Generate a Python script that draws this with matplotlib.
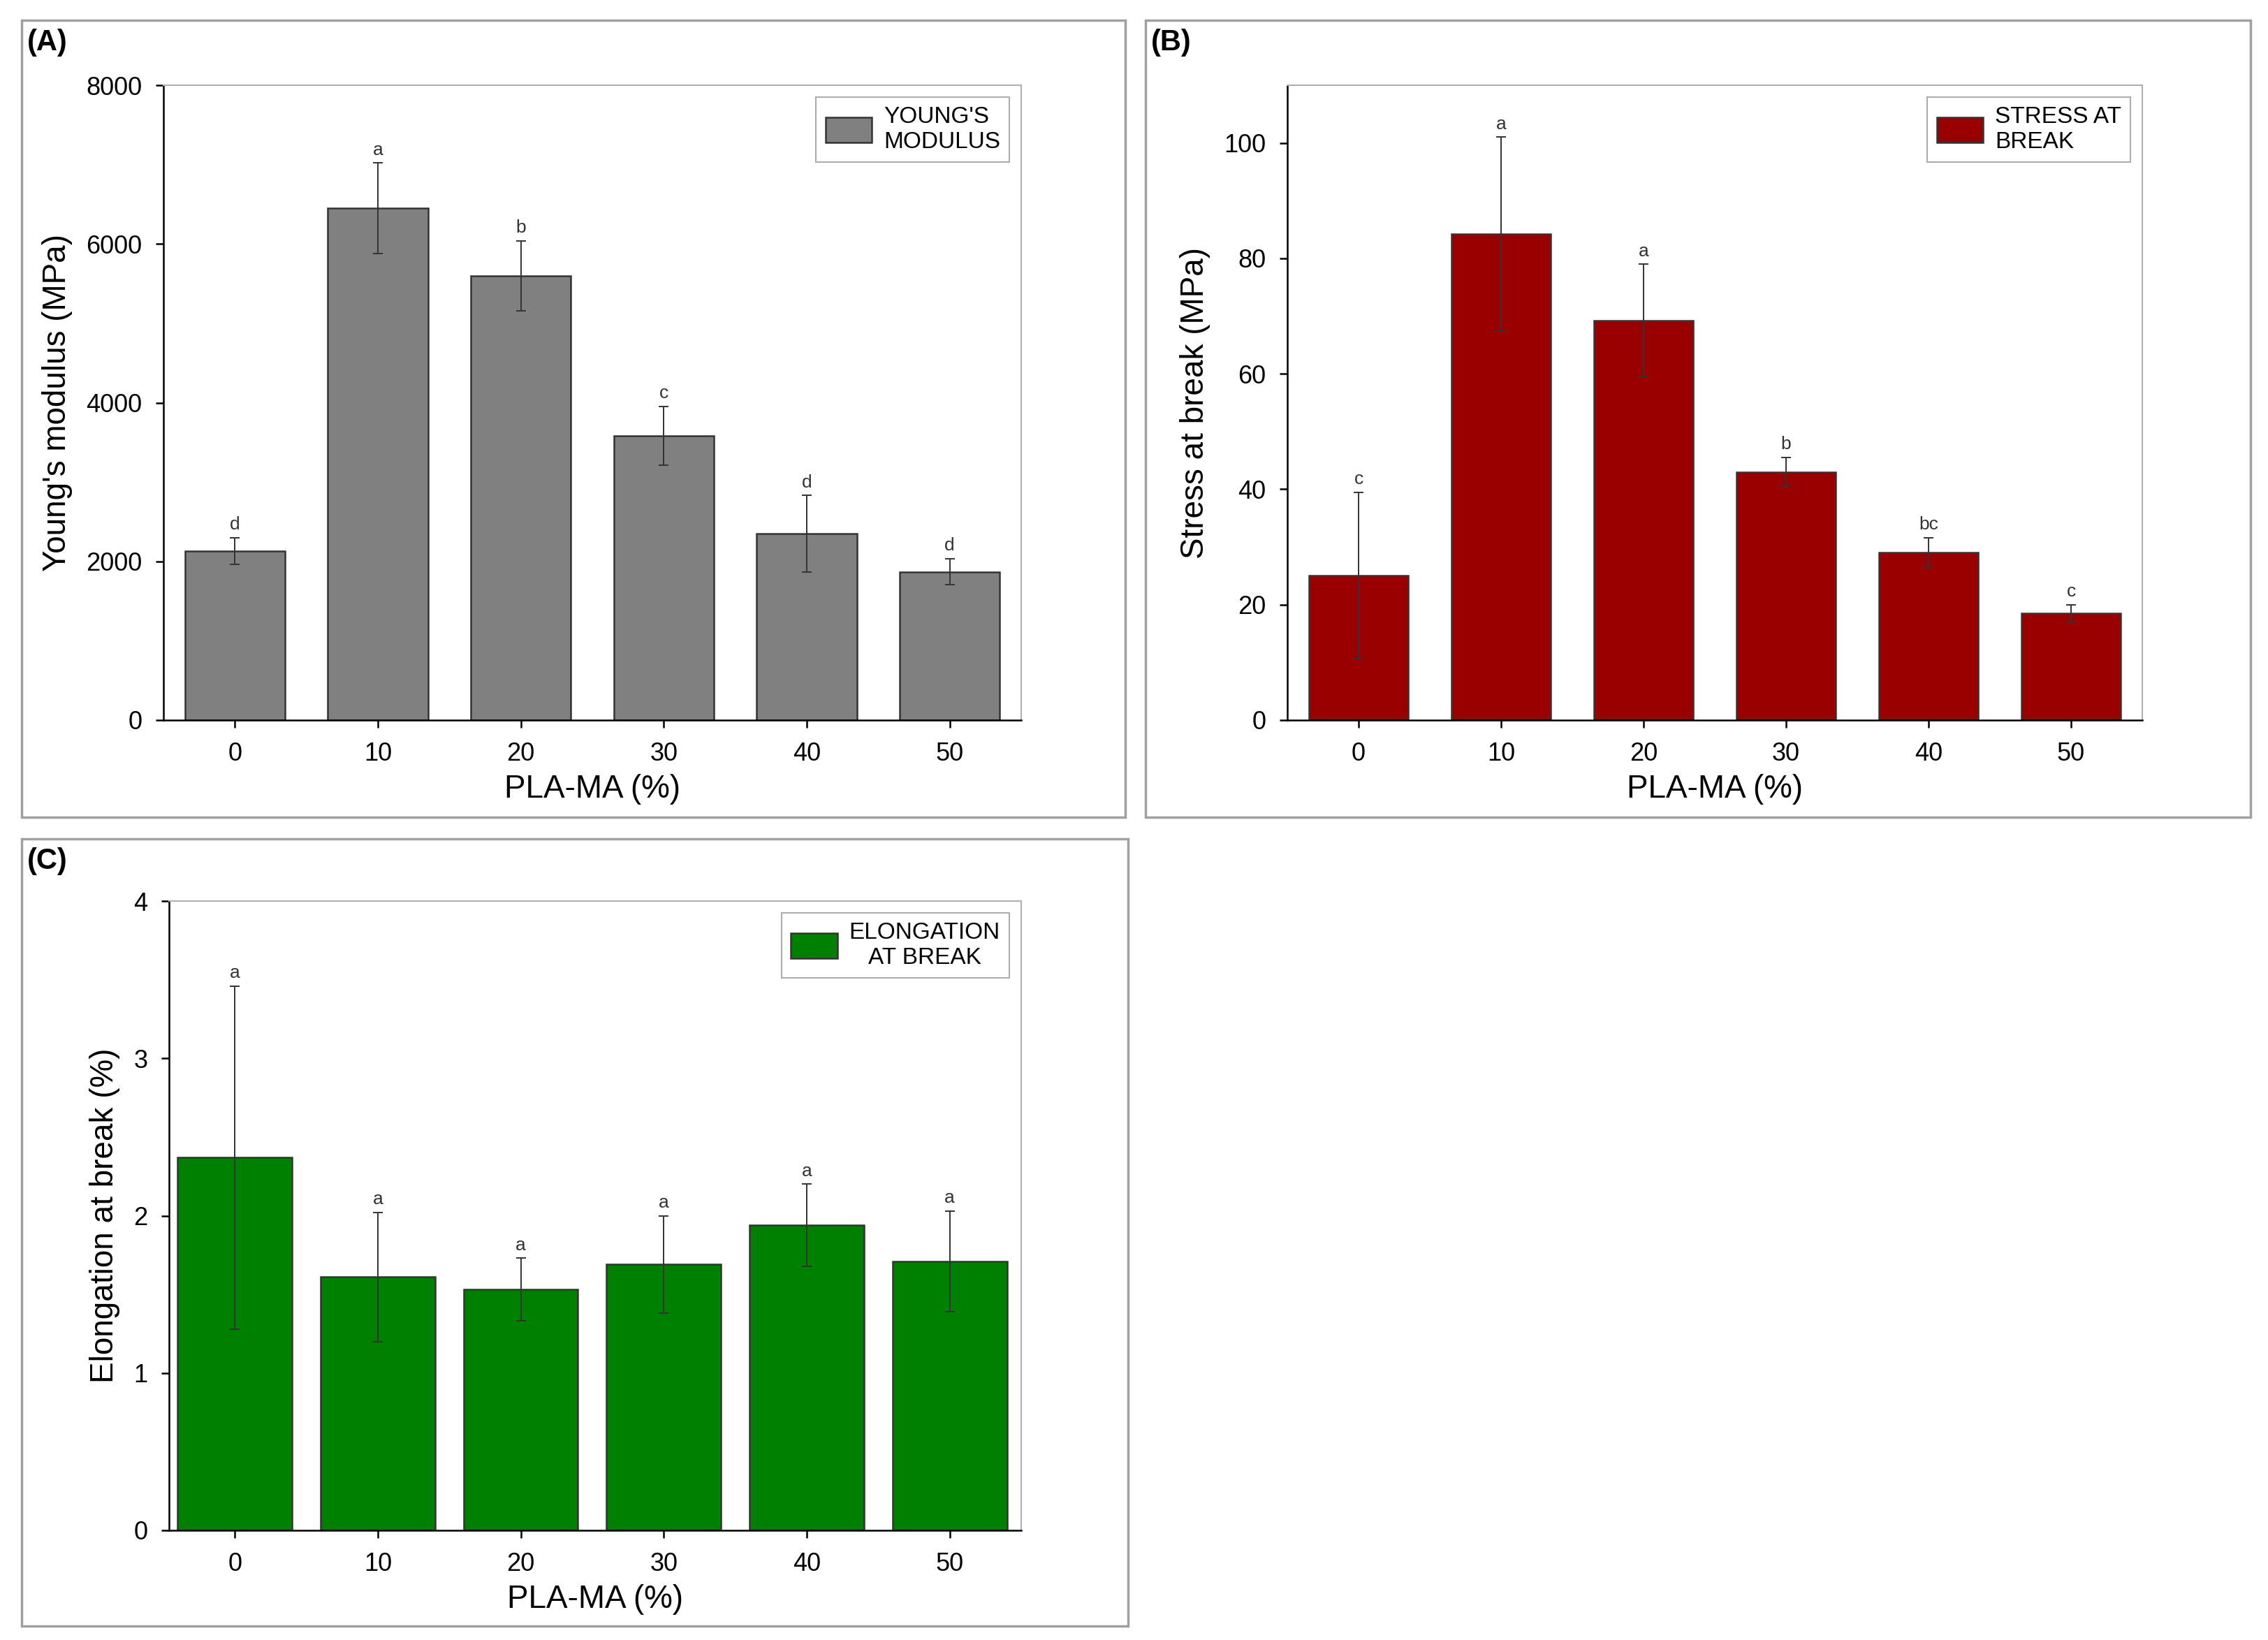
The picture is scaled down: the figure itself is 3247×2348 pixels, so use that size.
import matplotlib.pyplot as plt
from matplotlib.patches import Rectangle
import numpy as np

plt.rcParams['font.family'] = ['Liberation Sans', 'DejaVu Sans']

pla_ma = ['0', '10', '20', '30', '40', '50']

young = [2130, 6450, 5600, 3580, 2350, 1870]
young_err = [170, 570, 440, 370, 480, 165]
young_letters = ['d', 'a', 'b', 'c', 'd', 'd']

stress = [25.0, 84.2, 69.2, 43.0, 29.0, 18.5]
stress_err = [14.5, 16.8, 9.8, 2.5, 2.6, 1.5]
stress_letters = ['c', 'a', 'a', 'b', 'bc', 'c']

elong = [2.37, 1.61, 1.53, 1.69, 1.94, 1.71]
elong_err = [1.09, 0.41, 0.20, 0.31, 0.26, 0.32]
elong_letters = ['a', 'a', 'a', 'a', 'a', 'a']

W, H = 3247, 2348
fig = plt.figure(figsize=(W / 100, H / 100), dpi=100)


def px_axes(x0, y0, x1, y1):
    return fig.add_axes([x0 / W, 1 - y1 / H, (x1 - x0) / W, (y1 - y0) / H])


def frame(x0, y0, x1, y1, label):
    fig.patches.append(Rectangle((x0 / W, 1 - y1 / H), (x1 - x0) / W, (y1 - y0) / H,
                                 transform=fig.transFigure, fill=False,
                                 edgecolor='#a0a0a0', linewidth=2.5))
    fig.text((x0 + 8) / W, 1 - (y0 + 12) / H, label, fontsize=30, fontweight='bold',
             va='top', ha='left')


def panel(ax, vals, errs, letters, color, ylabel, leg, ylim, yticks, width, xlo, lab_off):
    x = np.arange(len(pla_ma))
    ax.bar(x, vals, width=width, color=color, edgecolor='#333333', linewidth=1.8, label=leg, zorder=2)
    ax.errorbar(x, vals, yerr=errs, fmt='none', ecolor='#333333', elinewidth=1.4,
                capsize=5, capthick=1.4, zorder=3)
    for xi, v, e, t in zip(x, vals, errs, letters):
        ax.text(xi, v + e + lab_off, t, ha='center', va='bottom', fontsize=19, color='#333333')
    ax.set_xlim(xlo, 5.5)
    ax.set_ylim(*ylim)
    ax.set_yticks(yticks)
    ax.set_xticks(x)
    ax.set_xticklabels(pla_ma)
    ax.tick_params(direction='out', length=8, width=1.8, labelsize=26, pad=14)
    for s in ['left', 'bottom']:
        ax.spines[s].set_linewidth(1.8)
    for s in ['top', 'right']:
        ax.spines[s].set_color('#b0b0b0')
        ax.spines[s].set_linewidth(1.5)
    ax.set_xlabel('PLA-MA (%)', fontsize=33, labelpad=8)
    ax.set_ylabel(ylabel, fontsize=33, labelpad=14)
    lg = ax.legend(loc='upper right', fontsize=24, frameon=True, fancybox=False,
                   edgecolor='#999999', handlelength=2.0, handleheight=1.3,
                   borderaxespad=0.5, handletextpad=0.5, borderpad=0.4)
    lg.get_frame().set_linewidth(1.5)
    return lg


# (A)
frame(31, 29, 1611, 1170, '(A)')
axA = px_axes(234, 122, 1462, 1031)
panel(axA, young, young_err, young_letters, '#808080', "Young's modulus (MPa)",
      "YOUNG'S\nMODULUS", (0, 8000), [0, 2000, 4000, 6000, 8000], 0.7, -0.5, 60)

# (B)
frame(1640, 29, 3222, 1170, '(B)')
axB = px_axes(1843, 122, 3067, 1031)
panel(axB, stress, stress_err, stress_letters, '#990000', 'Stress at break (MPa)',
      'STRESS AT\nBREAK', (0, 110), [0, 20, 40, 60, 80, 100], 0.7, -0.5, 0.8)

# (C)
frame(31, 1201, 1615, 2328, '(C)')
axC = px_axes(242, 1290, 1462, 2191)
lgC = panel(axC, elong, elong_err, elong_letters, '#008000', 'Elongation at break (%)',
            'ELONGATION\nAT BREAK', (0, 4), [0, 1, 2, 3, 4], 0.8, -0.46, 0.03)
lgC.get_texts()[0].set_multialignment('center')

fig.savefig('out.png', dpi=100)
